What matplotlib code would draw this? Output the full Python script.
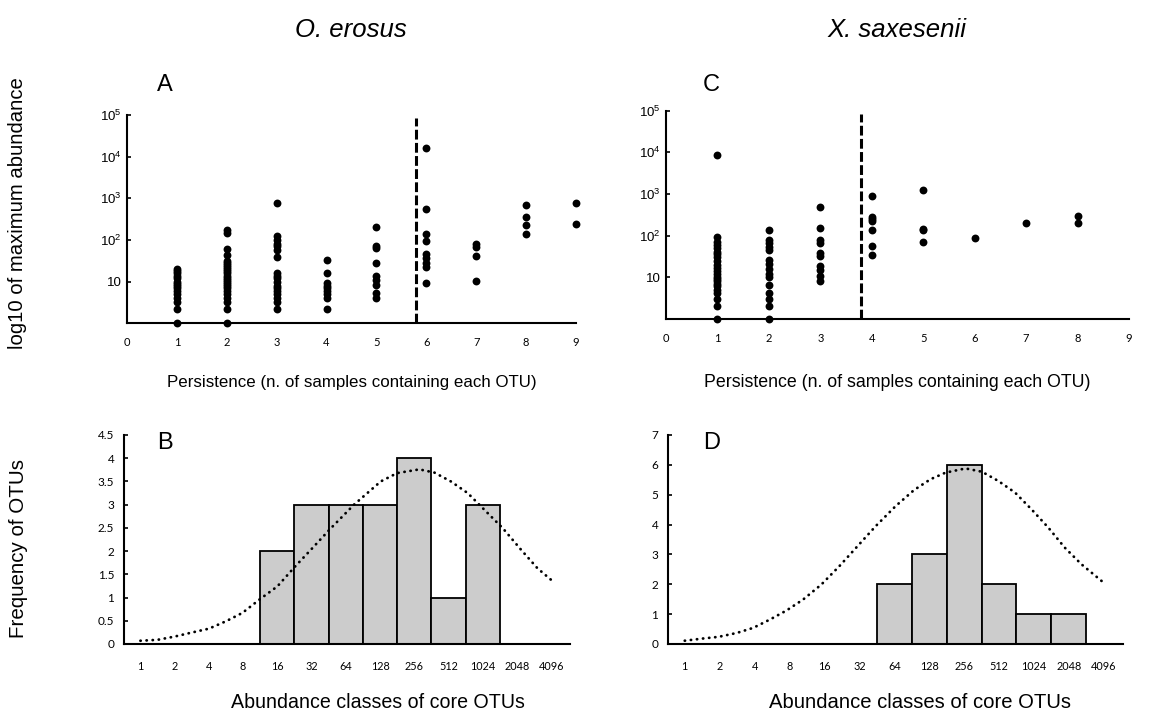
import matplotlib
matplotlib.use("Agg")
import matplotlib.pyplot as plt
from matplotlib.ticker import FixedLocator, FixedFormatter, NullLocator

plt.rcParams['font.family'] = ['Liberation Sans', 'DejaVu Sans']
plt.rcParams['mathtext.fontset'] = 'custom'
plt.rcParams['mathtext.rm'] = 'Liberation Sans'
plt.rcParams['mathtext.it'] = 'Liberation Sans:italic'

# ---------------- data ----------------
titles = ["O. erosus", "X. saxesenii"]
panel_letters = ["A", "B", "C", "D"]
top_xlabel = "Persistence (n. of samples containing each OTU)"
bot_xlabel = "Abundance classes of core OTUs"
top_ylabel = "log10 of maximum abundance"
bot_ylabel = "Frequency of OTUs"

persist_ticks = [0, 1, 2, 3, 4, 5, 6, 7, 8, 9]
log_ticks = [10, 100, 1000, 10000, 100000]
log_labels = ["10", r"$10^2$", r"$10^3$", r"$10^4$", r"$10^5$"]

# O. erosus: maximum abundance of each OTU, grouped by persistence 1..9
oe_abund = [
    [1, 2.2, 3.3, 4, 5, 6, 7, 8, 9, 10, 12, 14, 16, 18, 20],
    [1, 2.2, 3.3, 4, 5, 6, 7, 8, 9, 10, 11, 12, 14, 16, 18, 20, 22, 25, 28, 31, 43, 60, 145, 175],
    [2.2, 3.3, 4, 5, 6, 7, 8, 10, 12, 14, 16, 40, 57, 70, 80, 100, 122, 760],
    [2.2, 4, 5, 6, 7, 8, 9.5, 16, 33],
    [4, 5.2, 8.3, 11, 14, 28, 64, 70, 210],
    [9.1, 23, 28, 36, 46, 93, 139, 545, 15800],
    [10.6, 41, 66, 80],
    [139, 225, 363, 692],
    [245, 760],
]
oe_cutoff = 5.8

# X. saxesenii: maximum abundance of each OTU, grouped by persistence 1..8
xs_abund = [
    [1, 2, 3, 4.2, 5, 6, 7, 8, 9, 10, 12, 14, 17, 20, 25, 30, 35, 40, 50, 60, 70, 90, 8600],
    [1, 2, 3, 4.2, 6.4, 10, 12, 16, 21, 26, 46, 53, 66, 80, 134],
    [8, 10.6, 15, 19, 33, 38, 66, 80, 155, 490],
    [34, 55, 134, 225, 250, 280, 910],
    [69, 134, 147, 1260],
    [89],
    [200],
    [200, 302],
]
xs_cutoff = 3.8
cutoff_top = 10 ** 4.92

abund_classes = ["1", "2", "4", "8", "16", "32", "64", "128", "256", "512", "1024", "2048", "4096"]

oe_bar_classes = ["16", "32", "64", "128", "256", "512", "1024"]
oe_bar_counts = [2, 3, 3, 3, 4, 1, 3]
xs_bar_classes = ["64", "128", "256", "512", "1024", "2048"]
xs_bar_counts = [2, 3, 6, 2, 1, 1]

# fitted normal curves (position in class index units)
oe_curve_pos = [0, 0.5, 1.0, 1.46, 2.0, 2.5, 2.98, 3.5, 4.0, 4.52, 4.98, 5.56, 6.24, 6.63,
                7.02, 7.5, 8.15, 8.59, 9.07, 9.56, 9.9, 10.59, 11.12, 11.6, 12.0]
oe_curve_val = [0.07, 0.09, 0.16, 0.24, 0.33, 0.49, 0.67, 0.97, 1.24, 1.67, 2.03, 2.49, 3.0, 3.25,
                3.5, 3.68, 3.76, 3.69, 3.5, 3.25, 3.0, 2.49, 2.03, 1.63, 1.38]
xs_curve_pos = [0, 0.49, 0.97, 1.49, 1.96, 2.44, 2.91, 3.39, 3.91, 4.43, 4.95, 5.47, 6.04, 6.57,
                7.04, 7.47, 8.04, 8.51, 8.98, 9.46, 9.93, 10.41, 10.88, 11.36, 12.0]
xs_curve_val = [0.11, 0.18, 0.24, 0.37, 0.54, 0.82, 1.12, 1.49, 1.99, 2.61, 3.28, 3.95, 4.62, 5.16,
                5.52, 5.74, 5.88, 5.77, 5.46, 5.07, 4.51, 3.9, 3.23, 2.67, 2.05]

oe_freq_ticks = [0, 0.5, 1, 1.5, 2, 2.5, 3, 3.5, 4, 4.5]
oe_freq_labels = ["0", "0.5", "1", "1.5", "2", "2.5", "3", "3.5", "4", "4.5"]
xs_freq_ticks = [0, 1, 2, 3, 4, 5, 6, 7]
xs_freq_labels = ["0", "1", "2", "3", "4", "5", "6", "7"]

# ---------------- figure ----------------
W, H = 1152, 713
fig = plt.figure(figsize=(W / 100, H / 100), dpi=100)


def box(l, r, t, b):
    return [l / W, 1 - b / H, (r - l) / W, (b - t) / H]


axA = fig.add_axes(box(127, 576, 115, 323.3))
axC = fig.add_axes(box(666, 1129, 110.7, 318.7))
axB = fig.add_axes(box(124, 570, 435, 644))
axD = fig.add_axes(box(668, 1123, 435, 644))

tick_font = 'Lato'


def style_axes(ax):
    for s in ['top', 'right']:
        ax.spines[s].set_visible(False)
    for s in ['left', 'bottom']:
        ax.spines[s].set_linewidth(1.5)
    ax.tick_params(axis='x', length=0)
    ax.tick_params(axis='y', direction='in', length=3, width=1.2)


def scatter_panel(ax, groups, cutoff):
    for i, vals in enumerate(groups):
        xs = [i + 1] * len(vals)
        ax.scatter(xs, vals, s=32, color='black', linewidths=0, clip_on=False, zorder=3)
    ax.plot([cutoff, cutoff], [1, cutoff_top], color='black', lw=2.2,
            linestyle=(0, (3.2, 1.1)), clip_on=False)
    ax.set_yscale('log')
    ax.set_ylim(1, 1e5)
    ax.set_xlim(0, 9)
    ax.yaxis.set_major_locator(FixedLocator(log_ticks))
    ax.yaxis.set_major_formatter(FixedFormatter(log_labels))
    ax.yaxis.set_minor_locator(NullLocator())
    ax.set_xticks(persist_ticks)
    ax.set_xticklabels([str(t) for t in persist_ticks], family=tick_font, fontsize=8)
    style_axes(ax)
    ax.tick_params(axis='x', pad=10)
    ax.tick_params(axis='y', pad=4, labelsize=9.5)


def hist_panel(ax, bar_classes, counts, cpos, cval, yticks, ylabels, ymax):
    pos = [abund_classes.index(c) for c in bar_classes]
    ax.bar(pos, counts, width=1.0, color='#cccccc', edgecolor='black', linewidth=1.3, zorder=2)
    ax.plot(cpos, cval, color='black', lw=2.0, linestyle=(0, (0.1, 2.1)),
            dash_capstyle='round', zorder=3)
    ax.set_xlim(-0.48, 12.55)
    ax.set_ylim(0, ymax)
    ax.set_xticks(range(len(abund_classes)))
    ax.set_xticklabels(abund_classes, family=tick_font, fontsize=7.8)
    ax.set_yticks(yticks)
    ax.set_yticklabels(ylabels, family=tick_font, fontsize=8.5)
    style_axes(ax)
    ax.tick_params(axis='x', pad=12)
    ax.tick_params(axis='y', pad=7)


scatter_panel(axA, oe_abund, oe_cutoff)
scatter_panel(axC, xs_abund, xs_cutoff)
hist_panel(axB, oe_bar_classes, oe_bar_counts, oe_curve_pos, oe_curve_val,
           oe_freq_ticks, oe_freq_labels, 4.5)
hist_panel(axD, xs_bar_classes, xs_bar_counts, xs_curve_pos, xs_curve_val,
           xs_freq_ticks, xs_freq_labels, 7)


def ftext(x, y, s, **kw):
    fig.text(x / W, 1 - y / H, s, ha='center', va='center', **kw)


ftext(351, 30, titles[0], fontsize=18.5, style='italic')
ftext(897, 30, titles[1], fontsize=18.5, style='italic')
ftext(165, 85, panel_letters[0], fontsize=17)
ftext(165, 443, panel_letters[1], fontsize=17)
ftext(711, 85, panel_letters[2], fontsize=17)
ftext(712, 443, panel_letters[3], fontsize=17)
ftext(352, 382, top_xlabel, fontsize=12.2)
ftext(897, 382, top_xlabel, fontsize=12.8)
ftext(378, 702, bot_xlabel, fontsize=14.1)
ftext(920, 702, bot_xlabel, fontsize=14.6)
ftext(18, 213, top_ylabel, fontsize=14.6, rotation=90)
ftext(19, 548, bot_ylabel, fontsize=14.8, rotation=90)

fig.savefig("out.png", dpi=100)
